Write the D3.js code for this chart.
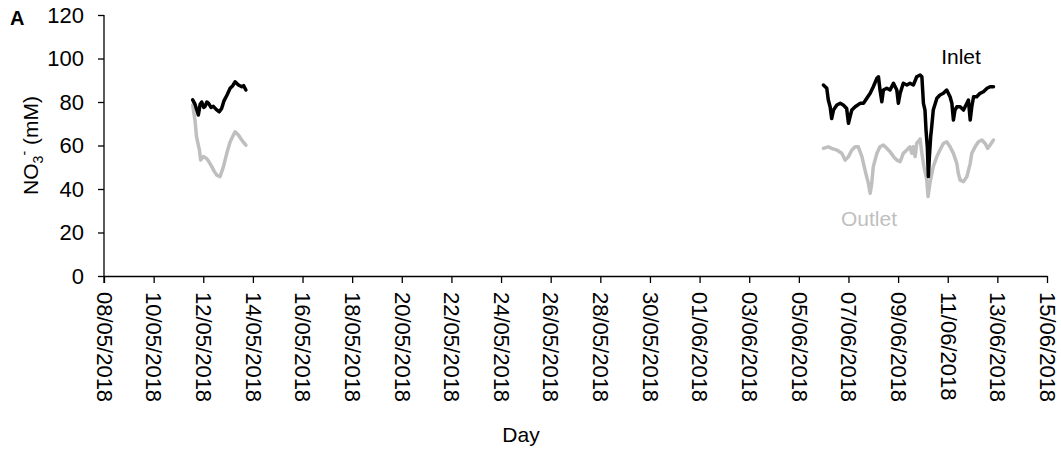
<!DOCTYPE html>
<html>
<head>
<meta charset="utf-8">
<script src="https://cdn.jsdelivr.net/npm/d3@7"></script>
<style>
  html, body { margin: 0; padding: 0; background: #fff; }
  svg text { font-family: "Liberation Sans", Arial, sans-serif; }
</style>
</head>
<body>
<svg id="chart" width="1061" height="461"></svg>
<script>
// Nitrate concentration at the inlet and outlet, two logging campaigns
const inletTimes1 = ["2018-05-11T13:45","2018-05-11T16:00","2018-05-11T18:00","2018-05-11T19:15","2018-05-11T21:00","2018-05-11T22:30","2018-05-12T00:30","2018-05-12T01:45","2018-05-12T03:30","2018-05-12T05:00","2018-05-12T07:30","2018-05-12T09:45","2018-05-12T12:45","2018-05-12T15:30","2018-05-12T17:45","2018-05-12T20:00","2018-05-12T22:45","2018-05-13T02:00","2018-05-13T04:30","2018-05-13T06:45","2018-05-13T08:30","2018-05-13T10:00","2018-05-13T13:15","2018-05-13T15:00","2018-05-13T17:15"];
const inletValues1 = [81, 79, 76, 74, 79, 80, 77.5, 78, 80, 79.5, 77.5, 78, 76.5, 75.5, 77, 80.5, 83, 86.3, 87.5, 89.3, 88.5, 87.8, 87, 87.5, 85.5];

const outletTimes1 = ["2018-05-11T13:45","2018-05-11T16:00","2018-05-11T17:30","2018-05-11T20:15","2018-05-11T21:30","2018-05-12T00:00","2018-05-12T03:15","2018-05-12T05:30","2018-05-12T08:15","2018-05-12T10:45","2018-05-12T13:00","2018-05-12T16:15","2018-05-12T19:30","2018-05-12T22:45","2018-05-13T02:00","2018-05-13T06:45","2018-05-13T10:00","2018-05-13T13:15","2018-05-13T17:15"];
const outletValues1 = [78.6, 71.7, 64, 58, 53.3, 54.9, 54, 52.5, 50.3, 48, 46.4, 45.7, 50.3, 56.4, 61.7, 66.3, 64.8, 62.5, 60.2];

const inletTimes2 = ["2018-06-05T23:45","2018-06-06T03:00","2018-06-06T04:30","2018-06-06T06:15","2018-06-06T07:45","2018-06-06T09:30","2018-06-06T12:45","2018-06-06T16:00","2018-06-06T19:00","2018-06-06T22:15","2018-06-07T00:00","2018-06-07T01:30","2018-06-07T03:15","2018-06-07T06:30","2018-06-07T11:15","2018-06-07T14:30","2018-06-07T17:45","2018-06-07T21:00","2018-06-08T00:00","2018-06-08T03:30","2018-06-08T05:00","2018-06-08T06:30","2018-06-08T08:15","2018-06-08T09:45","2018-06-08T13:00","2018-06-08T16:15","2018-06-08T19:30","2018-06-08T22:45","2018-06-09T00:15","2018-06-09T02:00","2018-06-09T05:00","2018-06-09T08:30","2018-06-09T11:30","2018-06-09T14:45","2018-06-09T18:00","2018-06-09T21:15","2018-06-09T23:00","2018-06-09T23:45","2018-06-10T00:30","2018-06-10T02:00","2018-06-10T03:00","2018-06-10T04:15","2018-06-10T05:15","2018-06-10T06:15","2018-06-10T07:30","2018-06-10T08:30","2018-06-10T10:00","2018-06-10T13:30","2018-06-10T16:30","2018-06-10T19:45","2018-06-10T23:00","2018-06-11T02:15","2018-06-11T04:00","2018-06-11T05:30","2018-06-11T07:00","2018-06-11T08:45","2018-06-11T12:00","2018-06-11T15:15","2018-06-11T18:30","2018-06-11T20:00","2018-06-11T21:45","2018-06-11T23:15","2018-06-12T01:00","2018-06-12T04:00","2018-06-12T07:15","2018-06-12T10:30","2018-06-12T14:00","2018-06-12T17:00","2018-06-12T20:15"];
const inletValues2 = [87.8, 86.3, 80.9, 77.8, 72.4, 76.3, 78.6, 79.4, 78.6, 77, 70.2, 73.2, 76.3, 77.8, 79.4, 79.4, 81.7, 84, 87, 90.9, 91.6, 85.5, 80.1, 85.5, 86.3, 85.5, 88.6, 85.5, 79.4, 84, 88.6, 87.8, 88.6, 87.8, 91.6, 92.4, 91.6, 85.5, 79.4, 76.3, 67.1, 59.4, 45.7, 54.9, 64, 68.6, 76.3, 81.7, 83.2, 84, 85.5, 82.4, 79.4, 71.7, 76.3, 77.8, 77.8, 76.3, 79.4, 80.9, 71.7, 77.8, 82.4, 82.4, 84, 84.7, 86.3, 87, 87];

const outletTimes2 = ["2018-06-05T23:45","2018-06-06T04:30","2018-06-06T07:45","2018-06-06T12:45","2018-06-06T17:30","2018-06-06T20:45","2018-06-07T00:00","2018-06-07T03:15","2018-06-07T06:30","2018-06-07T09:30","2018-06-07T13:00","2018-06-07T16:00","2018-06-07T19:15","2018-06-07T21:00","2018-06-07T22:30","2018-06-08T00:00","2018-06-08T03:30","2018-06-08T06:30","2018-06-08T09:45","2018-06-08T13:00","2018-06-08T16:15","2018-06-08T19:30","2018-06-08T22:45","2018-06-09T02:00","2018-06-09T05:00","2018-06-09T08:30","2018-06-09T11:30","2018-06-09T13:15","2018-06-09T14:45","2018-06-09T16:30","2018-06-09T18:00","2018-06-09T21:15","2018-06-09T23:00","2018-06-10T01:00","2018-06-10T03:45","2018-06-10T05:00","2018-06-10T06:45","2018-06-10T10:00","2018-06-10T13:30","2018-06-10T16:30","2018-06-10T19:45","2018-06-10T23:00","2018-06-11T02:15","2018-06-11T05:30","2018-06-11T08:45","2018-06-11T10:15","2018-06-11T12:00","2018-06-11T15:15","2018-06-11T18:30","2018-06-11T21:45","2018-06-11T23:15","2018-06-12T02:30","2018-06-12T05:45","2018-06-12T09:00","2018-06-12T12:15","2018-06-12T14:30","2018-06-12T17:00","2018-06-12T20:15"];
const outletValues2 = [58.7, 59.4, 58.7, 57.9, 56.4, 53.3, 54.9, 57.9, 59.4, 59.4, 54.9, 48.7, 42.6, 38, 42.6, 50.3, 56.4, 59.4, 60.2, 58.7, 57.1, 54.9, 53.3, 52.6, 56.4, 57.9, 59.4, 56.4, 59.4, 54.9, 61, 63, 56.4, 50.3, 44.1, 36.5, 42.6, 50.3, 54.9, 57.9, 60.9, 61.7, 59.4, 56.4, 51.8, 47.1, 44.1, 43.4, 45.7, 51.8, 56.4, 59.4, 61.7, 62.5, 60.9, 58.7, 60.2, 62.5];

const yTicks = [0, 20, 40, 60, 80, 100, 120];
const xDomain = ["2018-05-08T00:00", "2018-06-15T00:00"];

const svg = d3.select("#chart");
const margin = { left: 104, right: 14, top: 15, bottom: 185 };
const W = 1061, H = 461;

const parse = d3.utcParse("%Y-%m-%dT%H:%M");
const x = d3.scaleUtc()
  .domain(xDomain.map(parse))
  .range([margin.left, W - margin.right]);
const y = d3.scaleLinear()
  .domain([0, 120])
  .range([H - margin.bottom, margin.top]);

const zip = (ts, vs) => ts.map((t, i) => ({ t: parse(t), v: vs[i] }));

const line = d3.line().x(d => x(d.t)).y(d => y(d.v));

const series = [
  { data: zip(outletTimes1, outletValues1), color: "#bfbfbf" },
  { data: zip(outletTimes2, outletValues2), color: "#bfbfbf" },
  { data: zip(inletTimes1, inletValues1), color: "#000000" },
  { data: zip(inletTimes2, inletValues2), color: "#000000" }
];

svg.append("g")
  .selectAll("path")
  .data(series)
  .join("path")
  .attr("fill", "none")
  .attr("stroke", d => d.color)
  .attr("stroke-width", 3.5)
  .attr("stroke-linejoin", "round")
  .attr("stroke-linecap", "round")
  .attr("d", d => line(d.data));

// y axis
const yAxis = svg.append("g")
  .attr("transform", `translate(${margin.left},0)`)
  .call(d3.axisLeft(y).tickValues(yTicks).tickSize(6).tickPadding(14));
yAxis.selectAll("text").attr("font-size", 22).attr("fill", "#000")
  .attr("font-family", "Liberation Sans, Arial, sans-serif");
yAxis.select(".domain").attr("d", `M0,${y(120)}V${y(0) + 7}`).attr("stroke", "#000").attr("stroke-width", 1.3);
yAxis.selectAll(".tick line").attr("stroke", "#000").attr("stroke-width", 1.3);

// x axis: a tick every second day from the start of the domain
const xTicks = d3.utcDay.range(x.domain()[0], d3.utcDay.offset(x.domain()[1], 1), 2);
const xAxis = svg.append("g")
  .attr("transform", `translate(0,${y(0)})`)
  .call(d3.axisBottom(x)
    .tickValues(xTicks)
    .tickFormat(d3.utcFormat("%d/%m/%Y"))
    .tickSize(7)
    .tickSizeOuter(0));
xAxis.select(".domain").attr("stroke", "#000").attr("stroke-width", 1.3);
xAxis.selectAll(".tick line").attr("stroke", "#000").attr("stroke-width", 1.3);
xAxis.selectAll("text")
  .attr("font-size", 22)
  .attr("fill", "#000")
  .attr("font-family", "Liberation Sans, Arial, sans-serif")
  .attr("text-anchor", "start")
  .attr("dy", "0.35em")
  .attr("transform", "translate(0,16) rotate(90)")
  .attr("x", 0)
  .attr("y", 0);

// axis titles
svg.append("text")
  .attr("x", 521)
  .attr("y", 442)
  .attr("text-anchor", "middle")
  .attr("font-size", 21)
  .text("Day");

const yTitle = svg.append("text")
  .attr("transform", `translate(38,${(y(0) + y(120)) / 2}) rotate(-90)`)
  .attr("text-anchor", "middle")
  .attr("font-size", 21);
yTitle.append("tspan").text("NO");
yTitle.append("tspan").attr("font-size", 14).attr("dy", 5).text("3");
yTitle.append("tspan").attr("font-size", 14).attr("dy", -14).text("-");
yTitle.append("tspan").attr("dy", 9).text(" (mM)");

// series labels
svg.append("text")
  .attr("x", 961).attr("y", 64)
  .attr("text-anchor", "middle")
  .attr("font-size", 21)
  .attr("fill", "#000")
  .text("Inlet");
svg.append("text")
  .attr("x", 869).attr("y", 226)
  .attr("text-anchor", "middle")
  .attr("font-size", 21)
  .attr("fill", "#bfbfbf")
  .text("Outlet");

// panel letter
svg.append("text")
  .attr("x", 10).attr("y", 25)
  .attr("font-size", 20)
  .attr("font-weight", "bold")
  .text("A");
</script>
</body>
</html>
